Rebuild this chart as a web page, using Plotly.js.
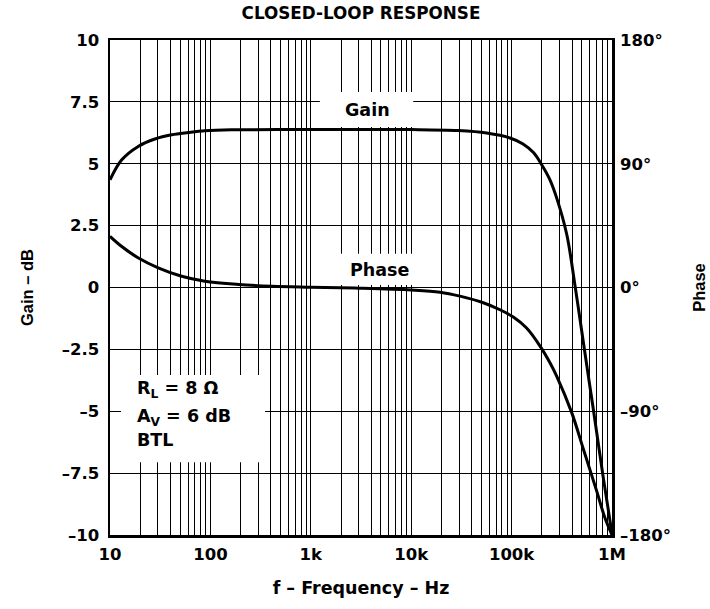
<!DOCTYPE html>
<html>
<head>
<meta charset="utf-8">
<script src="https://cdn.plot.ly/plotly-3.0.1.min.js"></script>
<style>html,body{margin:0;padding:0;background:#fff;}#chart{width:710px;height:609px;}</style>
</head>
<body>
<div id="chart"></div>
<script>
// Data
const gainFreq = [10, 13.1, 19.1, 28, 41.2, 60.3, 88, 163, 1000, 10000, 29400, 56500, 96400, 130000, 165000, 200000, 241000, 281000, 354000, 429000, 518000, 580000, 645000, 730000, 813000, 1000000];
const gainDb   = [4.35, 5.16, 5.7, 6.0, 6.17, 6.26, 6.33, 6.37, 6.38, 6.38, 6.34, 6.24, 6.04, 5.8, 5.45, 4.95, 4.35, 3.62, 2.15, 0.05, -2.2, -3.55, -4.8, -6.3, -7.6, -9.95];

const phaseFreq = [10, 13, 19, 30.2, 51.7, 88, 190, 410, 1000, 3000, 10000, 19400, 30600, 52200, 76600, 104000, 141000, 192000, 241000, 281000, 397000, 518000, 703000, 850000, 1000000];
const phaseDeg  = [37.2, 30, 21.6, 14.3, 8.2, 4.6, 2.2, 0.9, 0.2, -0.5, -1.8, -3.4, -6.3, -11.1, -16.2, -21.5, -29.5, -42.6, -54.7, -64.4, -91, -117.4, -147.9, -167.5, -180];

const decadeVals = [10, 100, 1000, 10000, 100000, 1000000];
const decadeText = ['10', '100', '1k', '10k', '100k', '1M'];
const minorMultipliers = [2, 3, 4, 5, 6, 7, 8, 9];

const gainTickVals = [-10, -7.5, -5, -2.5, 0, 2.5, 5, 7.5, 10];
const gainTickText = ['–10', '–7.5', '–5', '–2.5', '0', '2.5', '5', '7.5', '10'];

const phaseTickVals = [-180, -90, 0, 90, 180];
const phaseTickText = ['–180°', '–90°', '0°', '90°', '180°'];

const minorVals = [];
decadeVals.slice(0, -1).forEach(d => minorMultipliers.forEach(m => minorVals.push(d * m)));

const FONT = 'DejaVu Sans, Verdana, sans-serif';
const FONT2 = 'Liberation Sans, Arial, Helvetica, sans-serif';

const traces = [
  {x: gainFreq, y: gainDb, type: 'scatter', mode: 'lines', yaxis: 'y',
   line: {color: '#000', width: 3, shape: 'spline', smoothing: 1.0}, hoverinfo: 'skip'},
  {x: phaseFreq, y: phaseDeg, type: 'scatter', mode: 'lines', yaxis: 'y2',
   line: {color: '#000', width: 3, shape: 'spline', smoothing: 1.0}, hoverinfo: 'skip'}
];

const whiteBox = (x0, x1, y0, y1) => ({type: 'rect', xref: 'paper', yref: 'paper', x0, x1, y0, y1,
  fillcolor: '#fff', line: {width: 0}, layer: 'above'});

const lbl = (text, x, y, xanchor) => ({text, x, y, xref: 'paper', yref: 'paper', showarrow: false,
  xanchor: xanchor || 'center', yanchor: 'middle', font: {family: FONT, size: 17.5, color: '#000', weight: 'bold'}});

const tickFont = {family: FONT, size: 16.5, weight: 'bold', color: '#000'};

const layout = {
  width: 710, height: 609,
  margin: {l: 110, r: 98, t: 40, b: 74},
  paper_bgcolor: '#fff', plot_bgcolor: '#fff',
  showlegend: false,
  font: {family: FONT, color: '#000'},
  title: {text: 'CLOSED-LOOP RESPONSE', x: 0.5, xref: 'paper', y: 1 - 13/609, yref: 'container', yanchor: 'middle',
          font: {family: FONT, size: 16.8, weight: 'bold', color: '#000'}},
  xaxis: {type: 'log', range: [1, 6], tickvals: decadeVals, ticktext: decadeText,
          showgrid: true, gridcolor: '#000', gridwidth: 1, zeroline: false,
          minor: {tickvals: minorVals, showgrid: true, gridcolor: '#000', gridwidth: 1, ticks: ''},
          showline: true, mirror: true, linecolor: '#000', linewidth: 2.5, ticks: '',
          ticklabelstandoff: 3,
          tickfont: tickFont,
          title: {text: 'f – Frequency – Hz', standoff: 19, font: {family: FONT, size: 17.5, weight: 'bold', color: '#000'}}},
  yaxis: {range: [-10, 10], tickvals: gainTickVals, ticktext: gainTickText,
          showgrid: true, gridcolor: '#000', gridwidth: 1, zeroline: false,
          showline: true, mirror: true, linecolor: '#000', linewidth: 2.5, ticks: '',
          ticklabelstandoff: 5,
          tickfont: tickFont,
          title: {text: 'Gain – dB', standoff: 24, font: {family: FONT2, size: 16.5, weight: 'bold', color: '#000'}}},
  yaxis2: {range: [-180, 180], overlaying: 'y', side: 'right', tickvals: phaseTickVals, ticktext: phaseTickText,
          showgrid: false, zeroline: false, showline: false, ticks: '',
          ticklabelstandoff: 7,
          tickfont: tickFont,
          title: {text: 'Phase', standoff: 23, font: {family: FONT2, size: 16.5, weight: 'bold', color: '#000'}}},
  shapes: [
    whiteBox(0.418, 0.604, 0.824, 0.895),
    whiteBox(0.422, 0.653, 0.505, 0.568),
    whiteBox(0.022, 0.309, 0.147, 0.323)
  ],
  annotations: [
    lbl('Gain', 0.512, 0.859),
    lbl('Phase', 0.538, 0.535),
    lbl('R<sub>L</sub> = 8 Ω', 0.0498, 0.293, 'left'),
    lbl('A<sub>V</sub> = 6 dB', 0.0498, 0.237, 'left'),
    lbl('BTL', 0.0498, 0.192, 'left')
  ]
};

Plotly.newPlot('chart', traces, layout, {staticPlot: true, displayModeBar: false});
</script>
</body>
</html>
